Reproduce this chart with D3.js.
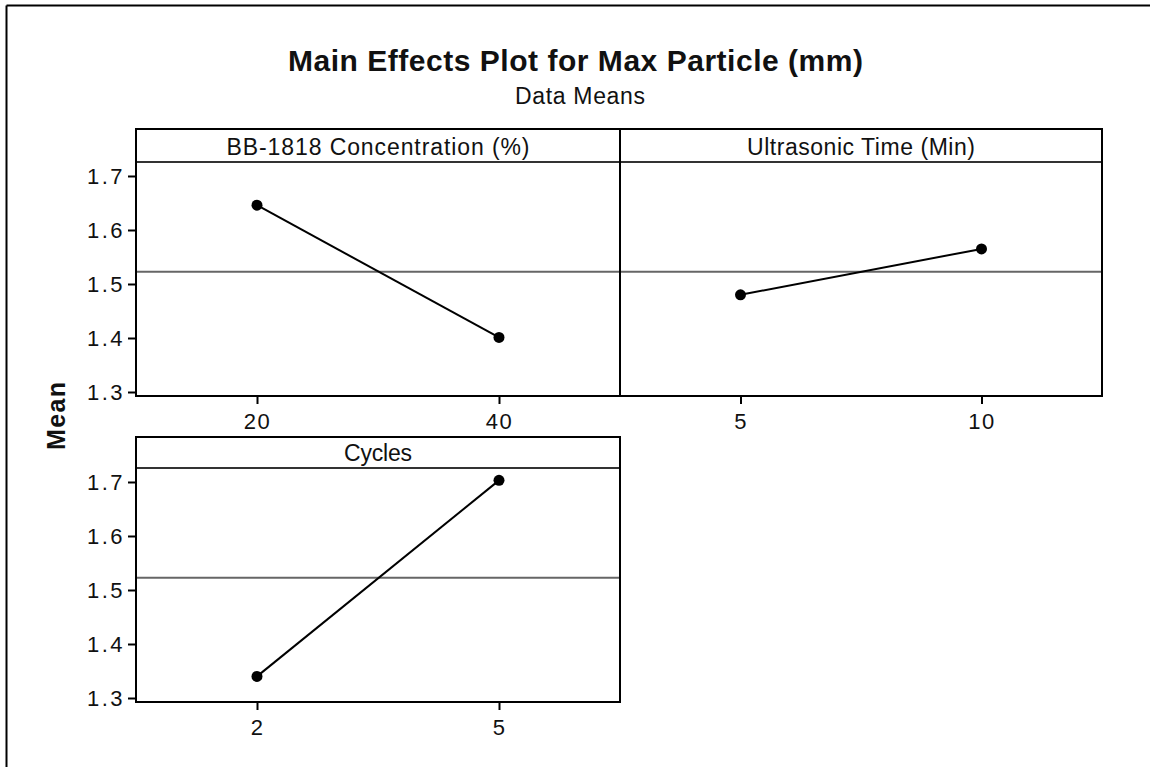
<!DOCTYPE html>
<html>
<head>
<meta charset="utf-8">
<script src="https://cdn.jsdelivr.net/npm/d3@7"></script>
<style>
  html, body { margin: 0; padding: 0; background: #fff; }
  svg { display: block; }
  text { font-family: "Liberation Sans", Arial, sans-serif; fill: #111; }
</style>
</head>
<body>
<svg id="chart" width="1150" height="767"></svg>
<script>
// Factor names, their levels and the mean response at each level
const factors = ["BB-1818 Concentration (%)", "Ultrasonic Time (Min)", "Cycles"];
const concentrationLevels = ["20", "40"];
const concentrationMeans = [1.646, 1.401];
const timeLevels = ["5", "10"];
const timeMeans = [1.480, 1.565];
const cycleLevels = ["2", "5"];
const cycleMeans = [1.340, 1.703];
const grandMean = 1.5225;
const yTicks = [1.3, 1.4, 1.5, 1.6, 1.7];
const yDomain = [1.2926, 1.7259];

// panel boxes and the spaced-out widths of their strip labels
const panels = [
  { name: factors[0], levels: concentrationLevels, means: concentrationMeans, x0: 136, x1: 620, top: 129, stripBottom: 162, bottom: 396, yAxis: true, labelWidth: 303 },
  { name: factors[1], levels: timeLevels, means: timeMeans, x0: 620, x1: 1102, top: 129, stripBottom: 162, bottom: 396, yAxis: false, labelWidth: 228 },
  { name: factors[2], levels: cycleLevels, means: cycleMeans, x0: 136, x1: 620, top: 437, stripBottom: 468, bottom: 702, yAxis: true, labelWidth: 68 }
];

const svg = d3.select("#chart");

// outer frame (top and left edges)
svg.append("line").attr("x1", 6.5).attr("x2", 1150).attr("y1", 5.5).attr("y2", 5.5)
  .attr("stroke", "#000").attr("stroke-width", 2);
svg.append("line").attr("x1", 6.5).attr("x2", 6.5).attr("y1", 5.5).attr("y2", 767)
  .attr("stroke", "#000").attr("stroke-width", 2);

// titles
svg.append("text").attr("x", 575.5).attr("y", 71).attr("text-anchor", "middle")
  .attr("textLength", 575).attr("lengthAdjust", "spacing")
  .style("font-size", "30px").style("font-weight", "bold")
  .text("Main Effects Plot for Max Particle (mm)");
svg.append("text").attr("x", 580).attr("y", 103.5).attr("text-anchor", "middle")
  .attr("textLength", 130).attr("lengthAdjust", "spacing")
  .style("font-size", "23px")
  .text("Data Means");

// shared y label
svg.append("text")
  .attr("transform", "translate(65,416) rotate(-90)")
  .attr("text-anchor", "middle")
  .attr("textLength", 68).attr("lengthAdjust", "spacing")
  .style("font-size", "25px").style("font-weight", "bold")
  .text("Mean");

const tickFont = "'Liberation Sans', Arial, sans-serif";

panels.forEach(p => {
  const g = svg.append("g");
  const x = d3.scalePoint().domain(p.levels).range([p.x0, p.x1]).padding(0.5);
  const y = d3.scaleLinear().domain(yDomain).range([p.bottom, p.stripBottom]);

  // reference line at the overall mean
  g.append("line")
    .attr("x1", p.x0).attr("x2", p.x1)
    .attr("y1", y(grandMean)).attr("y2", y(grandMean))
    .attr("stroke", "#666").attr("stroke-width", 2);

  // strip separator
  g.append("line")
    .attr("x1", p.x0).attr("x2", p.x1)
    .attr("y1", p.stripBottom).attr("y2", p.stripBottom)
    .attr("stroke", "#333").attr("stroke-width", 2);

  // panel frame
  g.append("rect")
    .attr("x", p.x0).attr("y", p.top)
    .attr("width", p.x1 - p.x0).attr("height", p.bottom - p.top)
    .attr("fill", "none").attr("stroke", "#000").attr("stroke-width", 2);

  // strip label
  g.append("text")
    .attr("x", (p.x0 + p.x1) / 2).attr("y", p.stripBottom - 7.5)
    .attr("text-anchor", "middle")
    .attr("textLength", p.labelWidth).attr("lengthAdjust", "spacing")
    .style("font-size", "23px")
    .text(p.name);

  // axes
  const xAxis = g.append("g")
    .attr("transform", `translate(0,${p.bottom})`)
    .call(d3.axisBottom(x).tickSize(8).tickPadding(9));
  xAxis.select(".domain").remove();
  xAxis.selectAll("line").attr("stroke", "#000").attr("stroke-width", 2);
  xAxis.selectAll("text").style("font-size", "22px").style("letter-spacing", "1.5px")
    .style("font-family", tickFont).attr("fill", "#111");

  if (p.yAxis) {
    const yAxis = g.append("g")
      .attr("transform", `translate(${p.x0},0)`)
      .call(d3.axisLeft(y).tickValues(yTicks).tickFormat(d3.format(".1f")).tickSize(8).tickPadding(3));
    yAxis.select(".domain").remove();
    yAxis.selectAll("line").attr("stroke", "#000").attr("stroke-width", 2);
    yAxis.selectAll("text").style("font-size", "22px").style("letter-spacing", "2.5px")
      .style("font-family", tickFont).attr("fill", "#111");
  }

  // level means joined by a line
  const pts = p.levels.map((l, i) => [x(l), y(p.means[i])]);
  g.append("path")
    .attr("d", d3.line()(pts))
    .attr("fill", "none").attr("stroke", "#000").attr("stroke-width", 2);
  g.selectAll("circle.pt").data(pts).join("circle")
    .attr("class", "pt")
    .attr("cx", d => d[0]).attr("cy", d => d[1]).attr("r", 5.5)
    .attr("fill", "#000");
});
</script>
</body>
</html>
